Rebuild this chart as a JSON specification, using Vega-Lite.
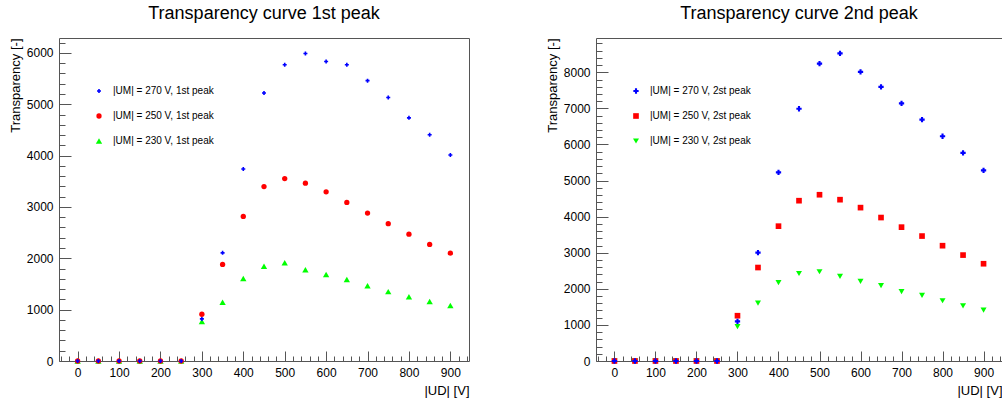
{
  "$schema": "https://vega.github.io/schema/vega-lite/v6.json",
  "background": "white",
  "padding": {"left": 8, "top": 4, "right": 2, "bottom": 2},
  "spacing": 75,
  "config": {
    "font": "Liberation Sans",
    "view": {"stroke": "#555555", "strokeWidth": 1},
    "axis": {
      "grid": false, "domain": false, "format": "d",
      "labelFont": "Liberation Sans", "labelFontSize": 12, "labelColor": "black",
      "titleFont": "Liberation Sans", "titleFontSize": 13, "titleFontWeight": "normal", "titleColor": "black",
      "tickColor": "#555555", "labelOverlap": false, "labelFlush": false
    },
    "title": {"font": "Liberation Sans", "fontSize": 18, "fontWeight": "normal", "color": "black", "offset": 14, "frame": "group", "anchor": "middle"},
    "legend": {"labelFont": "Liberation Sans", "labelFontSize": 10, "labelColor": "black", "rowPadding": 15, "symbolStrokeWidth": 0}
  },
  "datasets": {
    "left": [
      {"x": 0, "y": 0, "U": "230"}, {"x": 50, "y": 0, "U": "230"}, {"x": 100, "y": 0, "U": "230"}, {"x": 150, "y": 0, "U": "230"}, {"x": 200, "y": 0, "U": "230"}, {"x": 250, "y": 0, "U": "230"},
      {"x": 300, "y": 770, "U": "230"}, {"x": 350, "y": 1143, "U": "230"}, {"x": 400, "y": 1608, "U": "230"}, {"x": 450, "y": 1847, "U": "230"}, {"x": 500, "y": 1913, "U": "230"}, {"x": 550, "y": 1777, "U": "230"}, {"x": 600, "y": 1686, "U": "230"}, {"x": 650, "y": 1589, "U": "230"}, {"x": 700, "y": 1467, "U": "230"}, {"x": 750, "y": 1351, "U": "230"}, {"x": 800, "y": 1250, "U": "230"}, {"x": 850, "y": 1160, "U": "230"}, {"x": 900, "y": 1080, "U": "230"},
      {"x": 0, "y": 0, "U": "250"}, {"x": 50, "y": 0, "U": "250"}, {"x": 100, "y": 0, "U": "250"}, {"x": 150, "y": 0, "U": "250"}, {"x": 200, "y": 0, "U": "250"}, {"x": 250, "y": 0, "U": "250"},
      {"x": 300, "y": 910, "U": "250"}, {"x": 350, "y": 1880, "U": "250"}, {"x": 400, "y": 2816, "U": "250"}, {"x": 450, "y": 3397, "U": "250"}, {"x": 500, "y": 3552, "U": "250"}, {"x": 550, "y": 3463, "U": "250"}, {"x": 600, "y": 3294, "U": "250"}, {"x": 650, "y": 3087, "U": "250"}, {"x": 700, "y": 2881, "U": "250"}, {"x": 750, "y": 2674, "U": "250"}, {"x": 800, "y": 2470, "U": "250"}, {"x": 850, "y": 2270, "U": "250"}, {"x": 900, "y": 2100, "U": "250"},
      {"x": 0, "y": 0, "U": "270"}, {"x": 50, "y": 0, "U": "270"}, {"x": 100, "y": 0, "U": "270"}, {"x": 150, "y": 0, "U": "270"}, {"x": 200, "y": 0, "U": "270"}, {"x": 250, "y": 0, "U": "270"},
      {"x": 300, "y": 820, "U": "270"}, {"x": 350, "y": 2106, "U": "270"}, {"x": 400, "y": 3740, "U": "270"}, {"x": 450, "y": 5219, "U": "270"}, {"x": 500, "y": 5769, "U": "270"}, {"x": 550, "y": 5988, "U": "270"}, {"x": 600, "y": 5833, "U": "270"}, {"x": 650, "y": 5769, "U": "270"}, {"x": 700, "y": 5459, "U": "270"}, {"x": 750, "y": 5130, "U": "270"}, {"x": 800, "y": 4735, "U": "270"}, {"x": 850, "y": 4405, "U": "270"}, {"x": 900, "y": 4012, "U": "270"}
    ],
    "right": [
      {"x": 0, "y": 0, "U": "230"}, {"x": 50, "y": 0, "U": "230"}, {"x": 100, "y": 0, "U": "230"}, {"x": 150, "y": 0, "U": "230"}, {"x": 200, "y": 0, "U": "230"}, {"x": 250, "y": 0, "U": "230"},
      {"x": 300, "y": 953, "U": "230"}, {"x": 350, "y": 1602, "U": "230"}, {"x": 400, "y": 2170, "U": "230"}, {"x": 450, "y": 2425, "U": "230"}, {"x": 500, "y": 2473, "U": "230"}, {"x": 550, "y": 2343, "U": "230"}, {"x": 600, "y": 2206, "U": "230"}, {"x": 650, "y": 2088, "U": "230"}, {"x": 700, "y": 1923, "U": "230"}, {"x": 750, "y": 1820, "U": "230"}, {"x": 800, "y": 1670, "U": "230"}, {"x": 850, "y": 1530, "U": "230"}, {"x": 900, "y": 1410, "U": "230"},
      {"x": 0, "y": 0, "U": "250"}, {"x": 50, "y": 0, "U": "250"}, {"x": 100, "y": 0, "U": "250"}, {"x": 150, "y": 0, "U": "250"}, {"x": 200, "y": 0, "U": "250"}, {"x": 250, "y": 0, "U": "250"},
      {"x": 300, "y": 1255, "U": "250"}, {"x": 350, "y": 2590, "U": "250"}, {"x": 400, "y": 3736, "U": "250"}, {"x": 450, "y": 4442, "U": "250"}, {"x": 500, "y": 4607, "U": "250"}, {"x": 550, "y": 4470, "U": "250"}, {"x": 600, "y": 4250, "U": "250"}, {"x": 650, "y": 3975, "U": "250"}, {"x": 700, "y": 3709, "U": "250"}, {"x": 750, "y": 3462, "U": "250"}, {"x": 800, "y": 3195, "U": "250"}, {"x": 850, "y": 2935, "U": "250"}, {"x": 900, "y": 2695, "U": "250"},
      {"x": 0, "y": 0, "U": "270"}, {"x": 50, "y": 0, "U": "270"}, {"x": 100, "y": 0, "U": "270"}, {"x": 150, "y": 0, "U": "270"}, {"x": 200, "y": 0, "U": "270"}, {"x": 250, "y": 0, "U": "270"},
      {"x": 300, "y": 1099, "U": "270"}, {"x": 350, "y": 3003, "U": "270"}, {"x": 400, "y": 5227, "U": "270"}, {"x": 450, "y": 6990, "U": "270"}, {"x": 500, "y": 8239, "U": "270"}, {"x": 550, "y": 8523, "U": "270"}, {"x": 600, "y": 8010, "U": "270"}, {"x": 650, "y": 7597, "U": "270"}, {"x": 700, "y": 7137, "U": "270"}, {"x": 750, "y": 6688, "U": "270"}, {"x": 800, "y": 6228, "U": "270"}, {"x": 850, "y": 5767, "U": "270"}, {"x": 900, "y": 5282, "U": "270"}
    ]
  },
  "hconcat": [
    {
      "title": "Transparency curve 1st peak",
      "width": 410, "height": 323,
      "data": {"name": "left"},
      "mark": {"type": "point", "filled": true, "opacity": 1},
      "encoding": {
        "x": {"field": "x", "type": "quantitative",
          "scale": {"domain": [-45, 945], "nice": false, "zero": false},
          "axis": {"title": "|UD| [V]", "titleAnchor": "end", "titlePadding": 1,
            "values": [-40,-20,0,20,40,60,80,100,120,140,160,180,200,220,240,260,280,300,320,340,360,380,400,420,440,460,480,500,520,540,560,580,600,620,640,660,680,700,720,740,760,780,800,820,840,860,880,900,920,940],
            "labelExpr": "datum.value % 100 === 0 ? datum.label : ''",
            "tickSize": {"condition": {"test": "datum.value % 100 === 0", "value": -10}, "value": -5},
            "labelPadding": 16}},
        "y": {"field": "y", "type": "quantitative",
          "scale": {"domain": [0, 6290], "nice": false},
          "axis": {"title": "Transparency [-]", "titleAnchor": "end", "titlePadding": 4,
            "values": [0,200,400,600,800,1000,1200,1400,1600,1800,2000,2200,2400,2600,2800,3000,3200,3400,3600,3800,4000,4200,4400,4600,4800,5000,5200,5400,5600,5800,6000,6200],
            "labelExpr": "datum.value % 1000 === 0 ? datum.label : ''",
            "tickSize": {"condition": {"test": "datum.value % 1000 === 0", "value": -12}, "value": -6},
            "labelPadding": 18}},
        "color": {"field": "U", "type": "nominal",
          "scale": {"domain": ["270", "250", "230"], "range": ["#0000ff", "#ff0000", "#00ff00"]},
          "legend": {"orient": "none", "legendX": 35, "legendY": 48, "title": null, "labelOffset": 9,
            "labelExpr": "'|UM| = ' + datum.label + ' V, 1st peak'"}},
        "shape": {"field": "U", "type": "nominal",
          "scale": {"domain": ["270", "250", "230"], "range": ["cross", "circle", "triangle-up"]}},
        "size": {"field": "U", "type": "nominal",
          "scale": {"domain": ["270", "250", "230"], "range": [16, 40, 30]}}
      }
    },
    {
      "title": "Transparency curve 2nd peak",
      "width": 406, "height": 323,
      "data": {"name": "right"},
      "mark": {"type": "point", "filled": true, "opacity": 1},
      "encoding": {
        "x": {"field": "x", "type": "quantitative",
          "scale": {"domain": [-45, 945], "nice": false, "zero": false},
          "axis": {"title": "|UD| [V]", "titleAnchor": "end", "titlePadding": 1,
            "values": [-40,-20,0,20,40,60,80,100,120,140,160,180,200,220,240,260,280,300,320,340,360,380,400,420,440,460,480,500,520,540,560,580,600,620,640,660,680,700,720,740,760,780,800,820,840,860,880,900,920,940],
            "labelExpr": "datum.value % 100 === 0 ? datum.label : ''",
            "tickSize": {"condition": {"test": "datum.value % 100 === 0", "value": -10}, "value": -5},
            "labelPadding": 16}},
        "y": {"field": "y", "type": "quantitative",
          "scale": {"domain": [0, 8950], "nice": false},
          "axis": {"title": "Transparency [-]", "titleAnchor": "end", "titlePadding": 4,
            "values": [0,200,400,600,800,1000,1200,1400,1600,1800,2000,2200,2400,2600,2800,3000,3200,3400,3600,3800,4000,4200,4400,4600,4800,5000,5200,5400,5600,5800,6000,6200,6400,6600,6800,7000,7200,7400,7600,7800,8000,8200,8400,8600,8800],
            "labelExpr": "datum.value % 1000 === 0 ? datum.label : ''",
            "tickSize": {"condition": {"test": "datum.value % 1000 === 0", "value": -12}, "value": -6},
            "labelPadding": 18}},
        "color": {"field": "U", "type": "nominal",
          "scale": {"domain": ["270", "250", "230"], "range": ["#0000ff", "#ff0000", "#00ff00"]},
          "legend": {"orient": "none", "legendX": 35, "legendY": 48, "title": null, "labelOffset": 9,
            "labelExpr": "'|UM| = ' + datum.label + ' V, 2st peak'"}},
        "shape": {"field": "U", "type": "nominal",
          "scale": {"domain": ["270", "250", "230"], "range": ["cross", "square", "triangle-down"]}},
        "size": {"field": "U", "type": "nominal",
          "scale": {"domain": ["270", "250", "230"], "range": [28, 36, 30]}}
      }
    }
  ],
  "resolve": {"scale": {"color": "independent", "shape": "independent", "size": "independent", "x": "independent", "y": "independent"}}
}
